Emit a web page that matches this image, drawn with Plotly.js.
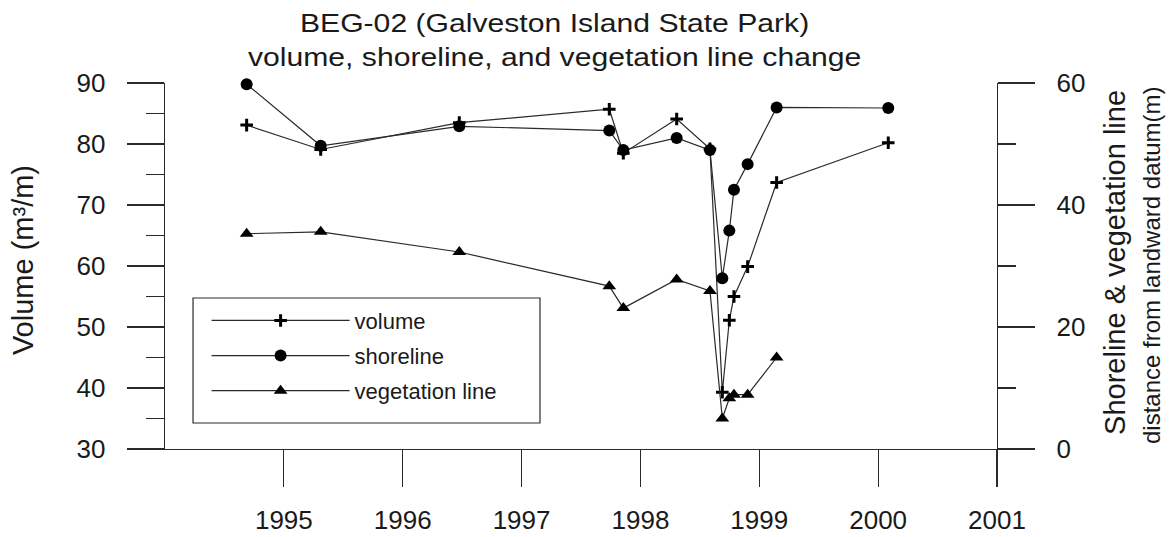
<!DOCTYPE html>
<html>
<head>
<meta charset="utf-8">
<script src="https://cdn.plot.ly/plotly-3.0.1.min.js"></script>
<style>
  html, body { margin: 0; padding: 0; background: #ffffff; }
  #chart { width: 1170px; height: 537px; }
  .gtitle { transform-box: fill-box; transform-origin: center; transform: scaleX(1.16); }
</style>
</head>
<body>
<div id="chart"></div>
<script>
// Survey dates (decimal years)
const surveyDates = [1994.687, 1995.310, 1996.476, 1997.738, 1997.856, 1998.305, 1998.585,
                     1998.689, 1998.748, 1998.787, 1998.902, 1999.146, 2000.085];
// Beach volume (m3/m), left axis
const volume = [83.1, 79.1, 83.5, 85.7, 78.5, 84.1, 79.2, 39.3, 51.1, 55.0, 59.9, 73.7, 80.2];
// Shoreline distance from landward datum (m), right axis
const shoreline = [59.8, 49.7, 52.9, 52.2, 49.0, 51.0, 49.0, 28.0, 35.8, 42.5, 46.7, 56.0, 55.9];
// Vegetation line distance from landward datum (m), right axis (no 2000 survey)
const vegDates = surveyDates.slice(0, 12);
const vegetation = [35.3, 35.6, 32.3, 26.7, 23.1, 27.8, 25.9, 5.0, 8.3, 8.9, 8.9, 15.0];

const yearTicks = [1995, 1996, 1997, 1998, 1999, 2000, 2001];
const yearLabels = ['1995', '1996', '1997', '1998', '1999', '2000', '2001'];

const FONT = 'Liberation Sans, Arial, Helvetica, sans-serif';
const INK = '#1a1a1a';
const LINE = '#2a2a2a';

const traces = [
  {
    x: surveyDates, y: volume, name: 'volume', yaxis: 'y', legendgroup: 'a',
    mode: 'lines+markers', cliponaxis: false, line: {color: LINE, width: 1.2},
    marker: {symbol: 'cross-thin-open', size: 9, color: '#000', line: {color: '#000', width: 3}}
  },
  {
    x: surveyDates, y: shoreline, name: 'shoreline', yaxis: 'y2', legendgroup: 'b',
    mode: 'lines+markers', cliponaxis: false, line: {color: LINE, width: 1.2},
    marker: {symbol: 'circle', size: 12, color: '#000', line: {width: 0}}
  },
  {
    x: vegDates, y: vegetation, name: 'vegetation line', yaxis: 'y2', legendgroup: 'c',
    mode: 'lines+markers', cliponaxis: false, line: {color: LINE, width: 1.2},
    marker: {symbol: 'triangle-up', size: 12, color: '#000', line: {width: 0}}
  }
];

const layout = {
  width: 1170, height: 537,
  paper_bgcolor: '#ffffff', plot_bgcolor: '#ffffff',
  margin: {l: 165, r: 173, t: 83, b: 88},
  font: {family: FONT, color: INK},
  title: {
    text: 'BEG-02 (Galveston Island State Park)<br>volume, shoreline, and vegetation line change',
    font: {family: FONT, size: 26, color: INK},
    xref: 'container', x: 0.474, xanchor: 'center',
    yref: 'container', y: 0.94, yanchor: 'top'
  },
  xaxis: {
    range: [1994, 2001], tickvals: yearTicks, ticktext: yearLabels,
    ticks: 'outside', ticklen: 37, tickwidth: 1.2, tickcolor: LINE,
    showline: true, linecolor: LINE, linewidth: 1.3,
    showgrid: false, zeroline: false,
    tickfont: {family: FONT, size: 26, color: INK},
    ticklabelstandoff: 10
  },
  yaxis: {
    range: [30, 90], dtick: 10, tick0: 30,
    ticks: 'outside', ticklen: 37, tickwidth: 1.2, tickcolor: LINE,
    minor: {dtick: 5, tick0: 30, ticks: 'outside', ticklen: 18, tickwidth: 1.2, tickcolor: LINE},
    showline: true, linecolor: LINE, linewidth: 1.3,
    showgrid: false, zeroline: false,
    tickfont: {family: FONT, size: 26, color: INK},
    ticklabelstandoff: 16
  },
  yaxis2: {
    range: [0, 60], dtick: 20, tick0: 0, overlaying: 'y', side: 'right',
    ticks: 'outside', ticklen: 37, tickwidth: 1.2, tickcolor: LINE,
    minor: {dtick: 10, tick0: 0, ticks: 'outside', ticklen: 18, tickwidth: 1.2, tickcolor: LINE},
    showline: true, linecolor: LINE, linewidth: 1.3,
    showgrid: false, zeroline: false,
    tickfont: {family: FONT, size: 26, color: INK},
    ticklabelstandoff: 16
  },
  showlegend: true,
  legend: {
    x: 0.05, xanchor: 'left', y: 0.408, yanchor: 'top',
    bgcolor: 'rgba(0,0,0,0)', borderwidth: 0,
    itemwidth: 138, traceorder: 'grouped', tracegroupgap: 3.5,
    font: {family: FONT, size: 22, color: INK}
  },
  shapes: [
    {type: 'rect', xref: 'paper', yref: 'paper', x0: 0.0337, x1: 0.4507, y0: 0.071, y1: 0.4126,
     line: {color: LINE, width: 1.2}, fillcolor: 'rgba(0,0,0,0)', layer: 'below'}
  ],
  annotations: [
    {text: 'Volume (m³/m)', xref: 'paper', yref: 'paper', x: -0.1707, y: 0.516,
     xanchor: 'center', yanchor: 'middle', textangle: -90, showarrow: false,
     font: {family: FONT, size: 29, color: INK}},
    {text: 'Shoreline &amp; vegetation line', xref: 'paper', yref: 'paper', x: 1.1418, y: 0.511,
     xanchor: 'center', yanchor: 'middle', textangle: -90, showarrow: false,
     font: {family: FONT, size: 29, color: INK}},
    {text: 'distance from landward datum(m)', xref: 'paper', yref: 'paper', x: 1.1851, y: 0.50,
     xanchor: 'center', yanchor: 'middle', textangle: -90, showarrow: false,
     font: {family: FONT, size: 24, color: INK}}
  ]
};

Plotly.newPlot('chart', traces, layout, {displayModeBar: false, staticPlot: true});
</script>
</body>
</html>
